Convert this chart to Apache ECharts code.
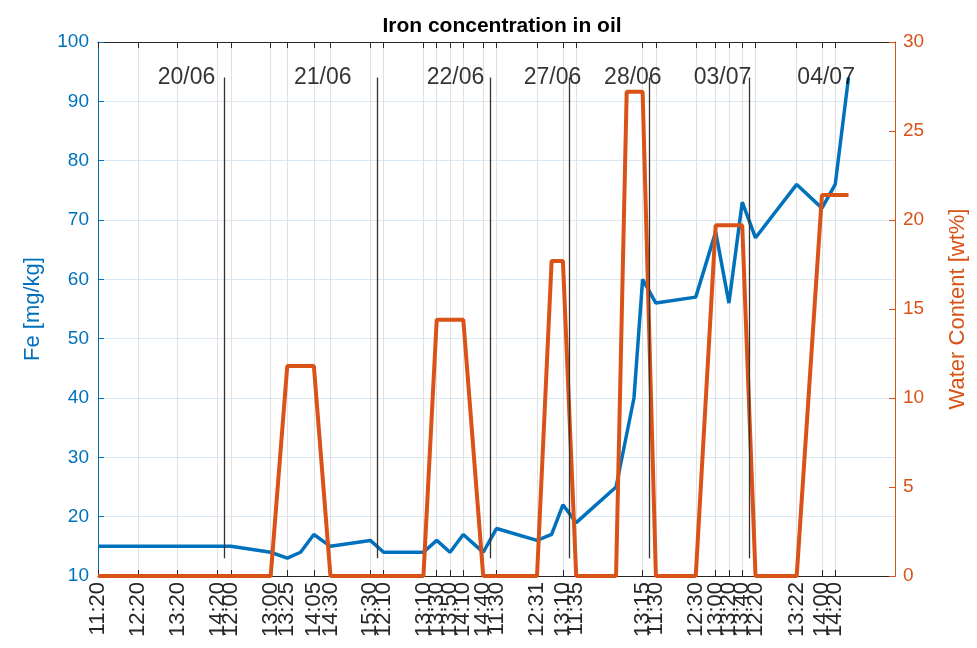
<!DOCTYPE html>
<html>
<head>
<meta charset="utf-8">
<script src="https://cdn.jsdelivr.net/npm/echarts@6/dist/echarts.min.js"></script>
<style>
  html, body { margin: 0; padding: 0; background: #fff; }
  #main { width: 977px; height: 648px; }
</style>
</head>
<body>
<div id="main"></div>
<script>
// x positions are minutes on a compressed time line (each day joined with a 20 min gap)
const tickX = [0, 60, 120, 180, 200, 260, 285, 325, 350, 410, 430, 490, 510, 530, 550, 580,
  600, 661, 700, 720, 820, 840, 900, 930, 950, 970, 990, 1052, 1090, 1110];
const tickLabels = ['11:20', '12:20', '13:20', '14:20', '12:00', '13:00', '13:25', '14:05', '14:30', '15:30',
  '12:10', '13:10', '13:30', '13:50', '14:10', '14:40', '11:30', '12:31', '13:10', '11:35', '13:15',
  '11:30', '12:30', '13:00', '13:20', '13:40', '12:20', '13:22', '14:00', '14:20'];
const X_MAX = 1200;

// Fe concentration [mg/kg]
const feX = [0, 60, 120, 180, 200, 260, 285, 305, 325, 350, 410, 430, 490, 510, 530, 550, 570, 580,
  600, 661, 683, 700, 720, 780, 807, 820, 840, 900, 930, 950, 970, 990, 1052, 1090, 1110, 1130];
const feY = [15, 15, 15, 15, 15, 14, 13, 14, 17, 15, 16, 14, 14, 16, 14, 17, 15, 14,
  18, 16, 17, 22, 19, 25, 40, 60, 56, 57, 68, 56, 73, 67, 76, 72, 76, 94];

// water content [wt%]
const waterX = [0, 260, 285, 325, 350, 490, 510, 550, 580, 661, 683, 700, 720, 780, 796, 820, 840,
  900, 930, 970, 990, 1052, 1090, 1130];
const waterY = [0, 0, 11.8, 11.8, 0, 0, 14.4, 14.4, 0, 0, 17.7, 17.7, 0, 0, 27.2, 27.2, 0,
  0, 19.7, 19.7, 0, 0, 21.4, 21.4];

// day separators and day labels
const dayBreakX = [190, 420, 590, 710, 830, 980];
const dayNames = ['20/06', '21/06', '22/06', '27/06', '28/06', '03/07', '04/07'];
const dayLabelX = [90, 295, 495, 641, 762, 897, 1053];

const FONT = 'Liberation Sans, Arial, Helvetica, sans-serif';
const BLUE = '#0072BD';
const ORANGE = '#D95319';
const DARK = '#262626';

const chart = echarts.init(document.getElementById('main'), null, { renderer: 'canvas' });

const option = {
  backgroundColor: '#fff',
  animation: false,
  textStyle: { fontFamily: FONT },
  title: {
    text: 'Iron concentration in oil',
    left: 497,
    top: 11,
    textAlign: 'center',
    textStyle: { fontSize: 21, fontWeight: 'bold', color: '#000', fontFamily: FONT }
  },
  grid: { left: 98, right: 80, top: 42, bottom: 72 },
  xAxis: [{
    type: 'value',
    min: 0,
    max: X_MAX,
    position: 'bottom',
    axisLine: { show: true, onZero: false, lineStyle: { color: DARK } },
    axisTick: { show: true, inside: true, length: 6, customValues: tickX, lineStyle: { color: DARK } },
    axisLabel: {
      // an empty label at the axis end keeps the last real label from being dropped
      customValues: tickX.concat([X_MAX]),
      rotate: 90,
      margin: 6,
      fontSize: 22,
      color: DARK,
      fontFamily: FONT,
      hideOverlap: false,
      formatter: function (v) {
        const i = tickX.indexOf(v);
        return i >= 0 ? tickLabels[i] : '';
      }
    },
    splitLine: { show: true, lineStyle: { color: '#e0e0e0', width: 1 } }
  }, {
    type: 'value',
    min: 0,
    max: X_MAX,
    position: 'top',
    axisLine: { show: true, onZero: false, lineStyle: { color: DARK } },
    axisTick: { show: true, inside: true, length: 6, customValues: tickX, lineStyle: { color: DARK } },
    axisLabel: { show: false },
    splitLine: { show: false }
  }],
  yAxis: [{
    type: 'value',
    min: 10,
    max: 100,
    interval: 10,
    position: 'left',
    name: 'Fe [mg/kg]',
    nameLocation: 'middle',
    nameRotate: 90,
    nameGap: 54,
    nameTextStyle: { color: BLUE, fontSize: 22, fontFamily: FONT },
    axisLine: { show: true, onZero: false, lineStyle: { color: BLUE } },
    axisTick: { show: true, inside: true, length: 6, lineStyle: { color: BLUE } },
    axisLabel: { color: BLUE, fontSize: 19, margin: 9, fontFamily: FONT },
    splitLine: { show: true, lineStyle: { color: '#d9e8f3', width: 1 } }
  }, {
    type: 'value',
    min: 0,
    max: 30,
    interval: 5,
    position: 'right',
    name: 'Water Content [wt%]',
    nameLocation: 'middle',
    nameRotate: 90,
    nameGap: 52,
    nameTextStyle: { color: ORANGE, fontSize: 22, fontFamily: FONT },
    axisLine: { show: true, onZero: false, lineStyle: { color: ORANGE } },
    axisTick: { show: true, inside: true, length: 6, lineStyle: { color: ORANGE } },
    axisLabel: { color: ORANGE, fontSize: 19, margin: 8, fontFamily: FONT },
    splitLine: { show: false }
  }],
  series: [{
    name: 'Fe',
    type: 'line',
    xAxisIndex: 0,
    yAxisIndex: 0,
    showSymbol: false,
    data: feX.map((x, i) => [x, feY[i]]),
    lineStyle: { color: BLUE, width: 3.5 },
    z: 3,
    markLine: {
      silent: true,
      symbol: 'none',
      label: { show: false },
      lineStyle: { color: '#333', width: 1.3, type: 'solid' },
      data: dayBreakX.map(x => [{ coord: [x, 13] }, { coord: [x, 94] }])
    }
  }, {
    name: 'Water',
    type: 'line',
    xAxisIndex: 0,
    yAxisIndex: 1,
    showSymbol: false,
    data: waterX.map((x, i) => [x, waterY[i]]),
    lineStyle: { color: ORANGE, width: 4 },
    z: 4
  }, {
    name: 'days',
    type: 'scatter',
    xAxisIndex: 0,
    yAxisIndex: 0,
    symbolSize: 0,
    silent: true,
    data: dayLabelX.map((x, i) => [x, 94, dayNames[i]]),
    label: {
      show: true,
      position: 'right',
      distance: 0,
      color: '#000',
      fontSize: 23,
      fontFamily: FONT,
      formatter: p => p.value[2]
    },
    z: 5
  }]
};

chart.setOption(option);
</script>
</body>
</html>
